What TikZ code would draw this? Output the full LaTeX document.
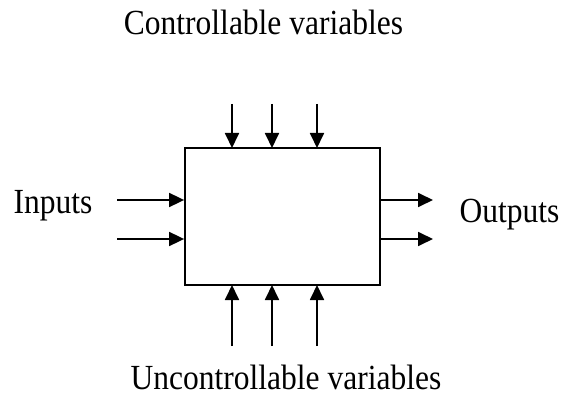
\documentclass[tikz,border=0pt]{standalone}
\usepackage{fontspec}
\setmainfont{Liberation Serif}
\usetikzlibrary{arrows.meta}
\newcommand{\tallt}[1]{\scalebox{1}[1.12]{#1}}
\begin{document}
\begin{tikzpicture}[x=1pt,y=-1pt,
  lbl/.style={font=\fontsize{31.5}{36}\selectfont, inner sep=0pt, anchor=base},
  arr/.style={line width=1.8pt, -{Triangle[length=15pt,width=14pt]}},
  sysbox/.style={draw, line width=1.8pt, minimum width=195pt, minimum height=137pt, inner sep=0pt}]
\useasboundingbox (0,0) rectangle (563,396);
\node[sysbox] (box) at (282.5,216.5) {};
\node[lbl] (ctrl) at (263.5,35) {\tallt{Controllable variables}};
\node[lbl] (unc) at (286,389) {\tallt{Uncontrollable variables}};
\node[lbl] (inp) at (53,213) {\tallt{Inputs}};
\node[lbl] (out) at (509.5,222) {\tallt{Outputs}};
% top and bottom arrows
\foreach \x [count=\i] in {232,272,317} {
  \coordinate (t\i) at (\x,104);
  \coordinate (tb\i) at (\x,148);
  \draw[arr] (t\i) -- (tb\i);
  \coordinate (b\i) at (\x,346);
  \coordinate (bb\i) at (\x,285);
  \draw[arr] (b\i) -- (bb\i);
}
% left and right arrows
\foreach \y [count=\i] in {200,239} {
  \coordinate (l\i) at (117,\y);
  \coordinate (lb\i) at (box.west |- 0,\y);
  \draw[arr] (l\i) -- (lb\i);
  \coordinate (rb\i) at (box.east |- 0,\y);
  \coordinate (r\i) at (433,\y);
  \draw[arr] (rb\i) -- (r\i);
}
\end{tikzpicture}
\end{document}
